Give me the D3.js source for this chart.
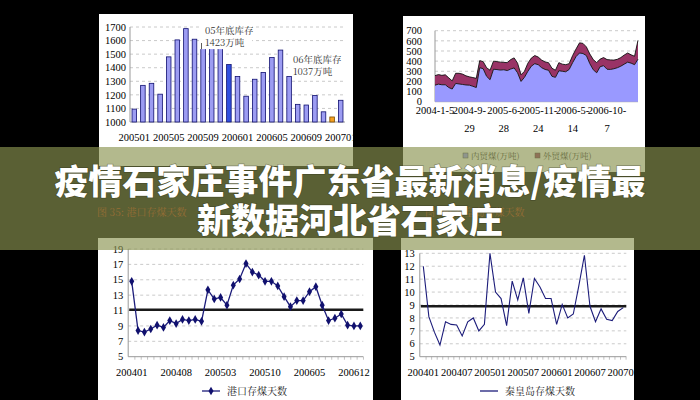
<!DOCTYPE html>
<html><head><meta charset="utf-8">
<script src="https://cdn.jsdelivr.net/npm/d3@7"></script>
<style>body{margin:0;background:#000;} svg{display:block}</style>
</head><body>
<svg id="c" width="700" height="400"></svg>
<script>
// ---------- Chart 1: monthly stock (bars) ----------
const barMonths = ["200501","200502","200503","200504","200505","200506","200507","200508","200509","200510","200511","200512",
  "200601","200602","200603","200604","200605","200606","200607","200608","200609","200610","200611","200612","200701"];
const barValues = [1095,1270,1285,1205,1480,1605,1688,1610,1590,1560,1575,1423,1335,1190,1315,1365,1475,1530,1335,1130,1125,1195,1075,1037,1160];
const barTicks = [1000,1100,1200,1300,1400,1500,1600,1700];
const barNotes = [["05年底库存","1423万吨"],["06年底库存","1037万吨"]];

// ---------- Chart 2: stacked area ----------
const areaTickLabels = [["2004-1-5"],["2004-9-","29"],["2005-6-","28"],["2005-11-","24"],["2006-5-","14"],["2006-10-","7"]];
const domestic = [163,173,167,167,140,125,180,175,170,165,163,152,140,335,325,250,217,320,317,312,
  315,307,322,333,285,200,240,300,350,375,365,335,318,310,250,240,305,300,295,318,
  385,445,480,475,455,375,315,285,345,355,320,318,325,335,350,370,390,380,365,420];
const foreign = [94,94,93,98,95,80,100,105,102,90,82,86,90,70,70,85,93,80,78,78,
  73,78,93,99,95,65,60,80,80,80,75,75,74,75,80,70,80,70,70,57,
  70,75,100,100,85,95,100,100,75,80,95,94,85,83,85,90,90,82,83,185];
const areaTicks = [0,100,200,300,400,500,600,700];
const areaSeries = ["内贸煤(万吨)","外贸煤(万吨)"];

// ---------- Chart 3 & 4: stock days ----------
const dayMonths = ["200401","200402","200403","200404","200405","200406","200407","200408","200409","200410","200411","200412",
  "200501","200502","200503","200504","200505","200506","200507","200508","200509","200510","200511","200512",
  "200601","200602","200603","200604","200605","200606","200607","200608","200609","200610","200611","200612","200701"];
const portDays = [14.8,8.4,8.2,8.6,9.1,8.8,9.7,9.3,9.85,9.7,9.85,9.6,13.7,12.5,12.7,11.7,14.3,15.1,17.1,16.0,
  15.6,14.8,14.8,14.2,12.8,11.5,12.3,12.3,13.45,14.1,11.7,9.7,10.0,10.55,9.1,9.0,9.0];
const portAvg = 11.1;
const portTicks = [5,7,9,11,13,15,17,19];
const qhdDays = [12.0,8.1,6.9,5.9,7.7,7.5,7.45,6.6,7.7,8.0,7.0,7.5,13.0,10.0,9.5,7.4,10.85,9.4,11.1,8.35,
  11.05,10.4,9.5,9.5,7.5,9.05,8.0,8.3,10.5,12.85,8.9,7.7,8.7,7.9,7.8,8.5,8.8];
const qhdAvg = 8.9;
const qhdTicks = [5,6,7,8,9,10,11,12,13];
const portLabel = "港口存煤天数", qhdLabel = "秦皇岛存煤天数";
const titles = ["图 35: 港口存煤天数","图 36: 秦皇岛存煤天数"];
const headline = ["疫情石家庄事件广东省最新消息/疫情最","新数据河北省石家庄"];

const SERIF = "'Liberation Serif','Times New Roman',serif";
const CJK = "'Noto Serif CJK SC','Noto Sans CJK SC',sans-serif";
const svg = d3.select("#c");
svg.append("rect").attr("width",700).attr("height",400).attr("fill","#000");
const defs = svg.append("defs");

function panel(id,x,y,w,h){
  defs.append("clipPath").attr("id",id).append("rect").attr("x",x).attr("y",y).attr("width",w).attr("height",h);
  svg.append("rect").attr("x",x).attr("y",y).attr("width",w).attr("height",h).attr("fill","#fff");
  return svg.append("g").attr("clip-path",`url(#${id})`);
}
function grid(g,y,ticks,x0,x1){
  g.append("g").selectAll("line").data(ticks.slice(1)).join("line")
    .attr("x1",x0).attr("x2",x1).attr("y1",d=>y(d)).attr("y2",d=>y(d))
    .attr("stroke","#bdbdbd").attr("stroke-width",0.8).attr("stroke-dasharray","3,3");
  g.append("line").attr("x1",x0).attr("x2",x1).attr("y1",y(ticks[0])).attr("y2",y(ticks[0])).attr("stroke","#999");
  g.append("line").attr("x1",x0).attr("x2",x0).attr("y1",y(ticks[0])).attr("y2",y(ticks[ticks.length-1])).attr("stroke","#999");
}
function yLabels(g,y,ticks,xr){
  g.append("g").selectAll("text").data(ticks).join("text")
    .attr("x",xr).attr("y",d=>y(d)).attr("dy","0.35em").attr("text-anchor","end")
    .attr("font-family",SERIF).attr("font-size",10.5).attr("fill","#000").text(d=>d);
}

// ===== Chart 1 =====
{
  const g = panel("p1",99,14,254,152);
  const x = d3.scaleBand().domain(barMonths).range([130,345]).paddingInner(0.47).paddingOuter(0.235);
  const y = d3.scaleLinear().domain([1000,1700]).range([122,27]);
  grid(g,y,barTicks,130,345);
  g.append("g").selectAll("rect").data(barValues).join("rect")
    .attr("x",(d,i)=>x(barMonths[i])).attr("width",x.bandwidth())
    .attr("y",d=>y(d)).attr("height",d=>y(1000)-y(d))
    .attr("fill",(d,i)=>i===11?"#3050e0":(i===23?"#f5a020":"#9c9cf2"))
    .attr("stroke",(d,i)=>i===23?"#7a4a00":"#101070").attr("stroke-width",0.8);
  yLabels(g,y,barTicks,126);
  g.append("g").selectAll("text").data(barMonths.filter((d,i)=>i%4===0)).join("text")
    .attr("x",d=>x(d)+x.bandwidth()/2).attr("y",141).attr("text-anchor","middle")
    .attr("font-family",SERIF).attr("font-size",10.5).text(d=>d);
  const notes = [{x:200,y:21,w:52,h:y(1537)-21,v:barNotes[0]},{x:288,y:50,w:62,h:25,v:barNotes[1]}];
  notes.forEach(n=>{
    g.append("rect").attr("x",n.x).attr("y",n.y).attr("width",n.w).attr("height",n.h).attr("fill","#fff");
    g.append("text").attr("x",n.x+5).attr("y",n.y+13).attr("font-family",CJK).attr("font-size",9.5).attr("fill","#333").text(n.v[0]);
    g.append("text").attr("x",n.x+5).attr("y",n.y+25).attr("font-family",CJK).attr("font-size",9.5).attr("fill","#333").text(n.v[1]);
  });
  g.append("line").attr("x1",201.5).attr("x2",201.5).attr("y1",43).attr("y2",y(1537)).attr("stroke","#333").attr("stroke-width",0.8);
}

// ===== Chart 2 =====
{
  const g = panel("p2",403,16,242,156);
  const idx = d3.range(domestic.length);
  const x = d3.scalePoint().domain(idx).range([435,638]);
  const y = d3.scaleLinear().domain([0,700]).range([101.7,30.7]);
  grid(g,y,areaTicks,435,638);
  const table = idx.map(i=>({i, dom:domestic[i], for:foreign[i]}));
  const stack = d3.stack().keys(["dom","for"])(table);
  const area = d3.area().x(d=>x(d.data.i)).y0(d=>y(d[0])).y1(d=>y(d[1]));
  const line = d3.line().x(d=>x(d.data.i)).y(d=>y(d[1]));
  const cols = ["#9999ff","#993366"];
  stack.forEach((s,k)=>{
    g.append("path").datum(s).attr("d",area).attr("fill",cols[k]);
  });
  stack.forEach((s,k)=>{
    g.append("path").datum(s).attr("d",line).attr("fill","none").attr("stroke","#111").attr("stroke-width",0.9);
  });
  yLabels(g,y,areaTicks,422);
  areaTickLabels.forEach((lab,j)=>{
    lab.forEach((t,r)=>{
      g.append("text").attr("x",x(j*10)).attr("y",114+r*18).attr("text-anchor","middle")
        .attr("font-family",SERIF).attr("font-size",10.5).text(t);
    });
  });
  const lx=[463,535];
  areaSeries.forEach((s,k)=>{
    g.append("rect").attr("x",lx[k]).attr("y",153).attr("width",5).attr("height",5).attr("fill",cols[k]).attr("stroke","#333").attr("stroke-width",0.5);
    g.append("text").attr("x",lx[k]+8).attr("y",158.5).attr("font-family",CJK).attr("font-size",8.5).attr("fill","#222").text(s);
  });
}

// faint figure titles (under banner)
svg.append("text").attr("x",97).attr("y",216).attr("font-family",CJK).attr("font-size",10).attr("fill","#a82800").text(titles[0]);
svg.append("text").attr("x",425).attr("y",216).attr("font-family",CJK).attr("font-size",10).attr("fill","#a82800").text(titles[1]);

function dayChart(id,px,pw,values,avg,ticks,yr,xr,labEvery,marker,labelText,legX){
  const g = panel(id,px,238,pw,170);
  const x = d3.scalePoint().domain(dayMonths).range(xr);
  const y = d3.scaleLinear().domain([ticks[0],ticks[ticks.length-1]]).range(yr);
  const x0 = xr[0]-3.5, x1 = xr[1]+3;
  grid(g,y,ticks,x0,x1);
  g.append("g").selectAll("line").data(dayMonths).join("line")
    .attr("x1",d=>x(d)+x.step()/2).attr("x2",d=>x(d)+x.step()/2).attr("y1",y(ticks[0])).attr("y2",y(ticks[0])+3)
    .attr("stroke","#999").attr("stroke-width",0.6);
  g.append("line").attr("x1",x0+1).attr("x2",x1).attr("y1",y(avg)).attr("y2",y(avg)).attr("stroke","#1a1a1a").attr("stroke-width",2.4);
  const ln = d3.line().x((d,i)=>x(dayMonths[i])).y(d=>y(d));
  g.append("path").datum(values).attr("d",ln).attr("fill","none").attr("stroke","#1c1c7a").attr("stroke-width",marker?1.3:1.1);
  if(marker){
    g.append("g").selectAll("path").data(values).join("path")
      .attr("transform",(d,i)=>`translate(${x(dayMonths[i])},${y(d)})`)
      .attr("d",d3.symbol(d3.symbolDiamond,22)).attr("fill","#10106e");
  }
  yLabels(g,y,ticks,xr[0]-8.5);
  g.append("g").selectAll("text").data(dayMonths.filter((d,i)=>i%labEvery===0)).join("text")
    .attr("x",d=>x(d)).attr("y",376).attr("text-anchor","middle")
    .attr("font-family",SERIF).attr("font-size",10.5).text(d=>d);
  g.append("line").attr("x1",legX).attr("x2",legX+18).attr("y1",391).attr("y2",391).attr("stroke","#1c1c7a").attr("stroke-width",1.3);
  if(marker) g.append("path").attr("transform",`translate(${legX+9},391)`).attr("d",d3.symbol(d3.symbolDiamond,22)).attr("fill","#10106e");
  g.append("text").attr("x",legX+25).attr("y",395).attr("font-family",CJK).attr("font-size",10).attr("fill","#222").text(labelText);
}
dayChart("p3",98,275,portDays,portAvg,portTicks,[356.7,249],[131.7,360.3],7,true,portLabel,202);
dayChart("p4",401,233,qhdDays,qhdAvg,qhdTicks,[356.7,253.3],[423.3,623.3],6,false,qhdLabel,480);

// ===== Banner overlay =====
svg.append("rect").attr("x",0).attr("y",147).attr("width",700).attr("height",103)
  .attr("fill","rgb(139,147,80)").attr("fill-opacity",0.65);
headline.forEach((t,i)=>{
  svg.append("text").attr("x",350).attr("y",194+i*39).attr("text-anchor","middle")
    .attr("font-family","'Noto Sans CJK SC',sans-serif").attr("font-weight",900).attr("font-size",34)
    .attr("fill","#fff").style("paint-order","stroke").attr("stroke","rgba(40,40,20,0.35)").attr("stroke-width",1.5)
    .text(t);
});
</script>
</body></html>
